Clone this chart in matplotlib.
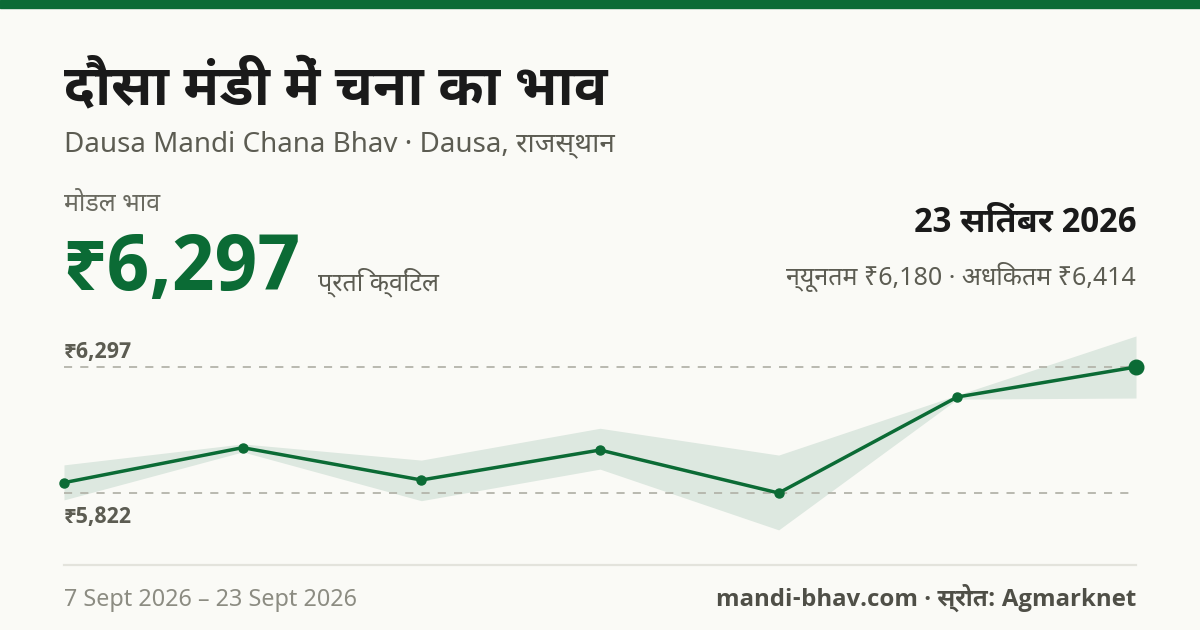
import matplotlib
matplotlib.use("Agg")
import matplotlib.pyplot as plt

# ---------------- data ----------------
modal_prices = [5861, 5993, 5871, 5984, 5822, 6184, 6297]
min_prices = [5796, 5977, 5793, 5912, 5683, 6176, 6180]
max_prices = [5928, 6007, 5946, 6066, 5965, 6191, 6414]
ref_high = 6297
ref_low = 5822
ref_labels = ["₹6,297", "₹5,822"]

title = "दौसा मंडी में चना का भाव"
subtitle = "Dausa Mandi Chana Bhav · Dausa, राजस्थान"
modal_label = "मोडल भाव"
modal_value = "₹6,297"
unit_label = "प्रति क्विंटल"
date_label = "23 सितंबर 2026"
range_label = "न्यूनतम ₹6,180 · अधिकतम ₹6,414"
period_label = "7 Sept 2026 – 23 Sept 2026"
source_label = "mandi-bhav.com · स्रोत: Agmarknet"

# ---------------- style ----------------
W, H = 1200, 630
BG = "#fafaf6"
GREEN = "#0b6b35"
BAND = "#dde8e0"
REG = ["Noto Sans", "Noto Sans Devanagari", "DejaVu Sans"]
BOLD = ["Noto Sans Devanagari UI", "Open Sans", "Noto Sans", "DejaVu Sans"]

fig = plt.figure(figsize=(W / 100, H / 100), dpi=100, facecolor=BG)


def fx(px):
    return px / W


def fy(py):
    return 1 - py / H


def txt(x, y, s, size, color, fam=REG, weight="normal", ha="left"):
    fig.text(fx(x), fy(y), s, fontsize=size, color=color, family=fam,
             weight=weight, ha=ha, va="baseline")


# top bar
fig.patches.append(plt.Rectangle((0, fy(8)), 1, 8 / H, transform=fig.transFigure,
                                 color=GREEN, zorder=0))

txt(64, 104, title, 40, "#1a1a1a", BOLD, "bold")
txt(64, 151, subtitle, 20, "#5c5c52")
txt(64, 211, modal_label, 18, "#6a6a60")
txt(62, 290, modal_value, 56, GREEN, BOLD, "bold")
txt(318, 290, unit_label, 18, "#5c5c52")
txt(1136, 231, date_label, 24.5, "#1a1a1a", BOLD, "bold", ha="right")
txt(1136, 285, range_label, 18, "#5c5c52", ha="right")

# ---------------- chart ----------------
top_px, bot_px = 320, 560
scale = (493 - 367) / (ref_high - ref_low)  # px per rupee
ymax = ref_high + (367 - top_px) / scale
ymin = ref_high - (bot_px - 367) / scale

ax = fig.add_axes([fx(64), fy(bot_px), fx(1136 - 64), (bot_px - top_px) / H])
ax.set_facecolor("none")
xs = list(range(len(modal_prices)))
ax.set_xlim(0, len(xs) - 1)
ax.set_ylim(ymin, ymax)
ax.axis("off")

ax.fill_between(xs, min_prices, max_prices, color=BAND, lw=0, zorder=1)
for v in (ref_high, ref_low):
    ax.axhline(v, color="#b4b4aa", lw=1.3, dashes=(4.5, 4.5), zorder=2)
ax.plot(xs, modal_prices, color=GREEN, lw=2.5, zorder=3, solid_joinstyle="round")
ax.plot(xs[:-1], modal_prices[:-1], "o", color=GREEN, ms=6.5, zorder=4, clip_on=False)
ax.plot(xs[-1:], modal_prices[-1:], "o", color=GREEN, ms=10.5, zorder=4, clip_on=False)

txt(64, 358, ref_labels[0], 16, "#5c5c52", BOLD, "bold")
txt(64, 523, ref_labels[1], 16, "#5c5c52", BOLD, "bold")

# baseline rule
fig.add_artist(plt.Line2D([fx(64), fx(1136)], [fy(565), fy(565)], color="#e3e3dc",
                          lw=1.6, transform=fig.transFigure))

txt(64, 606, period_label, 16.8, "#8c8c82")
txt(1136, 606, source_label, 17.3, "#4f4f47", BOLD, "bold", ha="right")

fig.savefig("out.png", dpi=100, facecolor=BG)
